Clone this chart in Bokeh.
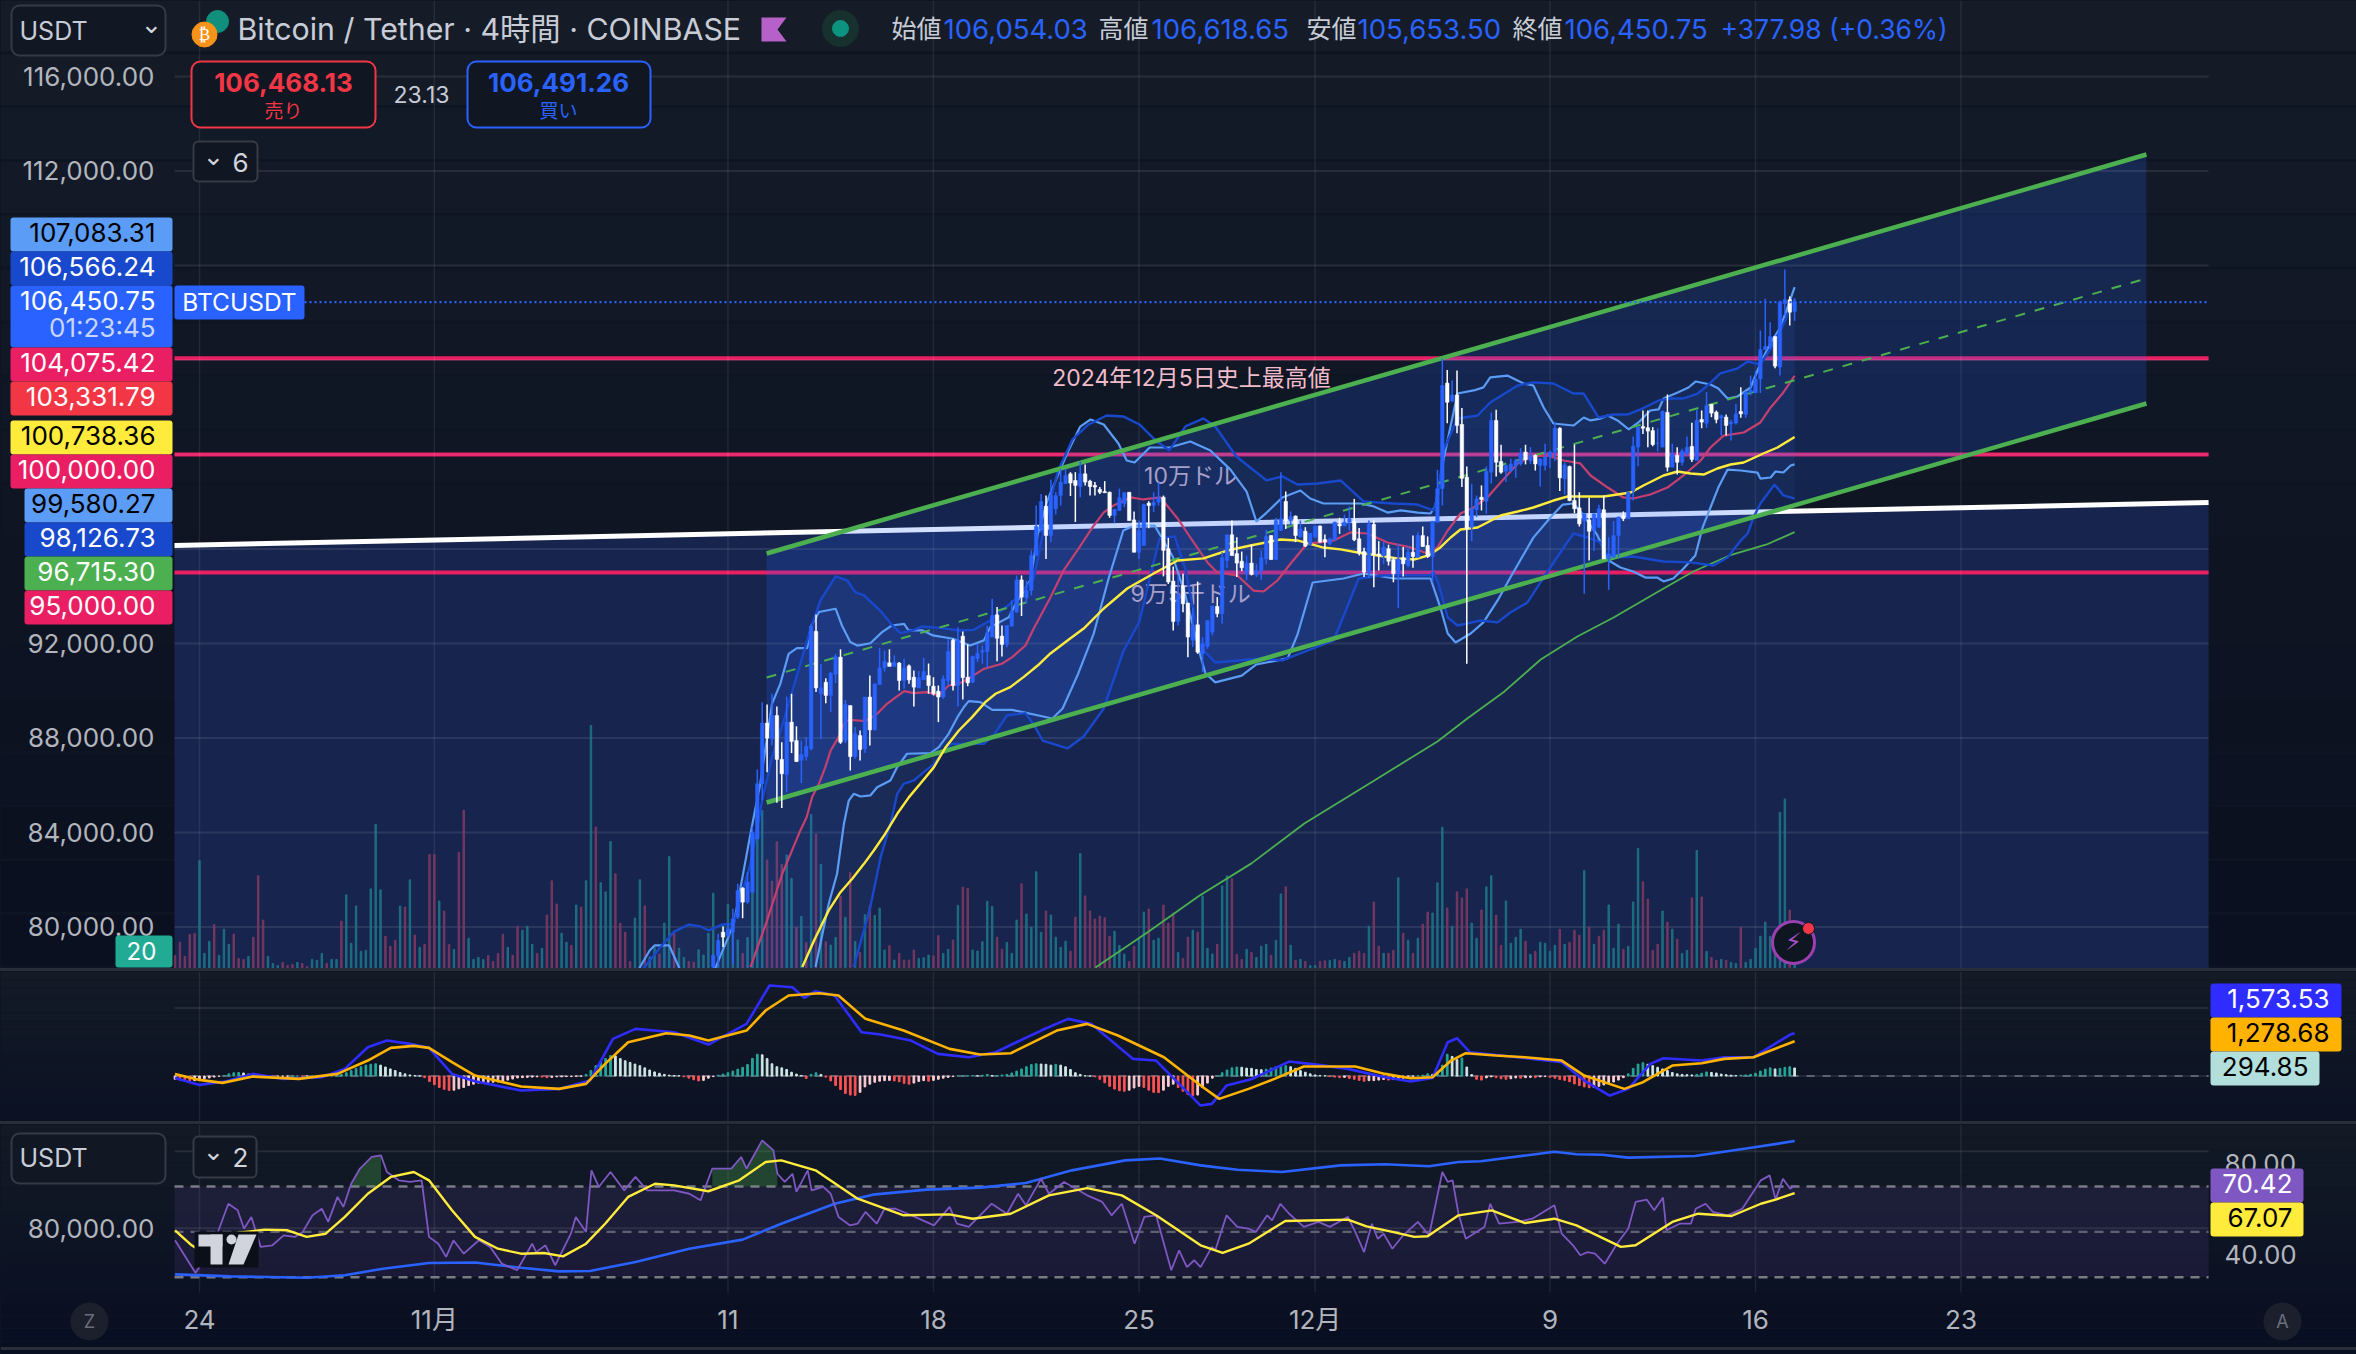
from bokeh.plotting import figure
from bokeh.models import Range1d, LinearAxis, FixedTicker, NumeralTickFormatter, Label, BoxAnnotation, Div, PolyAnnotation
from bokeh.layouts import column
from bokeh.embed import file_html
from bokeh.resources import INLINE
from bokeh.core.properties import value
import numpy as np

# ---------- candle data (4h bars, bar 0 = 24 Oct 00:00) ----------
first_candle = 105
opens = [78300,78790,79780,79640,79780,80420,81640,81050,81470,83730,
 86060,88630,87960,88950,87090,86450,88670,87890,87050,87210,
 87540,92510,89870,90360,89800,90690,91420,87890,89370,87210,
 88100,87540,89730,88340,90260,90970,91180,91030,91170,90430,
 91050,90570,90120,90460,90640,90190,89980,89730,90430,92130,
 90220,92310,90570,90360,91350,91630,91660,92270,93210,92310,
 91960,92730,93330,94690,93930,94240,95720,96850,97810,96570,
 97700,98260,98760,99180,98900,98640,99180,98870,98690,98520,
 98430,98400,97420,97630,97910,98400,97230,95860,96150,97940,
 97840,97980,98190,96010,94640,92930,94450,93710,92130,92790,
 91560,91870,92480,93570,93260,95510,96600,95800,95480,94950,
 95400,94900,95090,95580,96570,95550,96780,98010,97200,97390,
 96500,96750,96190,96500,96970,96400,96220,96390,97060,96970,
 97130,97160,96430,95890,95020,97040,95790,95720,96010,95550,
 94950,95630,95300,95860,95650,96570,96150,95680,97130,98550,
 103020,102260,102520,101270,99040,96920,97660,98190,98020,99250,
 101440,99700,99290,99320,99530,99600,100100,99740,99960,99530,
 99530,99890,100100,101110,98970,99490,98050,97740,97200,
 97230,96780,96920,97660,95580,95650,96570,97390,97280,98470,
 100310,101180,101130,101010,100480,100310,101780,99460,99960,99670,
 100030,100340,99750,101480,101320,102120,101790,101550,101580,101300,
 101330,101820,101690,102640,102610,103200,104430,104570,104990,103700,
 106380,106550,106054.03]
highs = [78860,79710,80020,80130,80770,81830,81680,82320,84250,86670,
 89510,89420,89870,89330,87820,89750,89870,88490,87890,88030,
 92800,93230,91140,90530,90790,91560,91750,89610,89370,88460,
 88320,89730,90640,90290,91800,91700,91750,91490,91210,91350,
 91110,90860,90830,91390,91150,90570,90220,90640,92200,92200,
 92690,92510,91960,91490,91980,91910,92760,93890,93540,92760,
 92760,93820,94880,94880,94670,95940,97840,98330,98260,98930,
 98400,99390,99390,99250,99250,99700,99580,98930,98830,98620,
 98870,98430,97700,98550,98400,98400,97590,97200,97910,98020,
 98400,98830,98260,96470,95260,94880,94950,93710,93510,94620,
 92270,92970,93610,93960,95860,96600,97200,96500,95890,95720,
 96190,95370,95940,96810,96570,97320,99250,98430,97590,97420,
 97200,96920,96670,96990,96990,96610,96470,97160,97320,97460,
 97800,98120,96890,96050,97200,97200,96330,96290,96180,95650,
 96220,96080,96100,96570,96710,96950,96530,97170,99350,104050,
 103580,103130,103550,101970,99490,98760,98260,98690,99490,101780,
 101890,100410,99580,99820,99820,100270,100410,100310,100000,99820,
 100450,100170,101370,101150,99670,99530,100420,98400,97490,98170,
 97490,97870,98260,96500,97180,97370,97590,98430,100760,101160,
 101860,101860,101160,101110,101860,102540,100450,100310,100240,100760,
 101340,101890,101860,102640,102140,101860,101680,101690,101470,102140,
 102850,102670,103340,103530,105250,106590,105600,104990,106520,107830,
 106690,106618.65]
lows = [78230,78300,79150,79570,78440,80340,80370,80980,81430,83730,
 85350,86550,87680,85260,85030,85700,87360,86980,86090,87050,
 87470,89940,87960,89470,89090,90320,87750,87780,86620,87120,
 87050,87360,87680,88320,90260,90810,91030,91030,90010,90080,
 90290,89330,90120,90460,89870,89800,88670,89660,90220,90010,
 89330,89630,90190,90320,91210,91140,90970,92270,91250,91450,
 91840,92730,93300,93160,93700,94030,95720,96710,95580,96290,
 97460,97840,98760,98240,97140,98190,98690,98260,98260,98330,
 98380,97320,97090,97600,97770,97200,95860,95580,96150,96880,
 97560,97840,94840,94520,92550,92760,93320,91420,91850,91560,
 90780,91770,92340,93110,92830,95190,95720,94810,95060,94670,
 94880,94810,94690,95340,95550,95550,96780,96850,96990,96290,
 96500,96080,96150,96470,96260,95650,96150,96360,96640,96970,
 96780,96330,95720,94810,94770,94380,95090,95370,95300,94590,
 93510,94830,95230,95200,95620,96080,95620,94590,97130,97840,
 101325,102210,100900,98620,91140,96330,97350,97630,97490,98760,
 99070,99180,98830,99250,99010,99530,99580,99600,99320,98640,
 99320,99430,99720,98450,98300,98020,97520,96950,94100,95510,
 95910,96890,95580,94270,95620,95650,97180,97280,98050,99500,
 100870,100310,100350,100130,100310,99280,99460,99150,99530,99960,
 99680,99750,101110,101130,101580,101320,100800,100800,100590,101270,
 101550,101550,102500,102610,102600,104430,104470,103650,103340,105880,
 105460,105653.50]
closes = [78790,79430,79570,79920,80340,81540,81050,81900,84010,86060,
 88630,87990,88950,87090,86480,88670,87850,87000,87300,87640,
 92730,90120,90120,89800,90740,91450,87820,89420,87210,88180,
 87510,89730,88340,90290,90970,91250,91030,91200,90430,90970,
 90460,90150,90550,90810,90220,89870,89730,90500,91660,90220,
 92150,90550,90330,91450,91590,91700,92450,93180,92220,91960,
 92760,93370,94690,93960,94240,95720,96950,98010,96570,98260,
 98260,98830,99110,98790,98690,99180,98830,98640,98620,98400,
 98380,97420,97670,98170,98380,97200,95860,96780,97880,97840,
 97980,98190,95940,94600,92930,94070,93680,92270,92760,91630,
 91980,92970,93580,93260,95630,96600,95720,95400,95200,95400,
 94920,95090,95630,96530,95550,97200,97280,97200,97370,96570,
 96850,96120,96670,96970,96290,96290,96430,97130,96970,97130,
 97280,96390,95840,95020,97060,95770,95720,96080,95480,94950,
 95580,95370,95860,95680,96570,96100,95680,97170,98550,102920,
 102210,102520,101230,98990,96850,97700,98120,98090,99290,101440,
 99670,99250,99530,99600,99740,100050,99770,99960,99600,99820,
 99890,100100,101110,99010,99560,98050,97700,97060,97490,96750,
 97490,97700,95580,95790,96570,97350,97280,98400,100350,101160,
 101110,100990,100420,100480,101830,99460,100030,99670,100140,100310,
 99790,101440,101370,102070,101750,101480,101640,101230,101370,101720,
 101720,102640,102710,103200,104440,104570,104990,103740,106450,106550,
 106020,106450.75]

# ---------- volume: positive = up bar, negative = down bar; first value is bar -5 ----------
first_bar = -5
volumes = [-39,-78,-36,-101,-104,321,45,81,-131,39,117,72,-102,-30,-27,36,-93,-276,-144,36,
 15,9,-18,-9,-12,18,-15,-6,27,24,45,-15,27,27,-141,219,75,186,51,54,
 237,429,234,-96,-66,-84,186,-183,264,-99,63,-72,-339,-339,201,-171,-72,57,-345,-471,
 90,27,33,27,-39,-21,-45,-102,63,-39,-126,114,126,72,-45,60,-159,-261,-192,105,
 78,-69,189,-183,261,723,-421,255,228,378,-282,-135,-108,-21,150,264,-186,35,63,-43,
 135,333,-105,61,33,-21,-18,56,
 40,105,224,40,131,191,141,85,-45,92,400,390,470,-323,-260,-377,-310,338,268,-122,
 155,-77,458,-400,310,-80,70,92,-215,152,-285,80,-48,160,-188,158,180,55,-68,25,
 -45,-25,-25,-55,30,32,40,-38,-98,45,57,-85,188,-242,-238,55,52,80,200,185,
 -93,-57,78,45,144,-252,162,123,288,108,-171,159,93,63,81,-51,-153,342,-216,-171,
 -147,-156,-151,-96,111,69,43,-21,-66,91,168,-177,84,90,-189,-135,-165,48,-30,-93,
 114,-108,216,60,43,-72,246,276,-267,-42,-27,57,-48,33,66,72,-39,84,222,-243,
 69,-24,27,-21,9,9,-21,-23,24,27,-24,21,33,-45,-51,-45,126,-198,-66,45,
 -45,-54,270,-105,84,-45,90,-132,-168,165,255,420,-180,126,-228,-210,-237,135,90,-174,
 243,276,-159,-69,201,75,93,117,-81,42,-51,78,75,51,69,-117,72,-78,-114,-99,
 291,-123,72,-96,-114,189,60,132,-57,66,198,357,-258,-207,-54,-72,171,-138,117,-87,
 45,54,-210,351,-213,51,-33,-24,27,-24,18,15,-123,18,27,60,96,138,96,61,
 465,504,-174,50]

# ---------- overlay lines (bar index, price) ----------
bb_light_up_x = [89,90,92,93,96,98,99,103,105.5,109.2,112.6,114.6,117,118.7,120.4,122.1,124.2,124.9,126.6,130,131.3,133,134.4,137.1,139.5,141.5,144,144.9,147.8,149.9,154,157.5,160.3,161.6,165.4,167,169.8,171.3,173.3,175.4,177.4,180,182.1,184.8,187.8,189.5,191.1,194.2,198.2,202.5,206.6,210.7,214,216,218.1,221.3,225,227,229.7,233.2,237.3,240,242.8,245.5,249,251.6,252.6,254.2,257.1,260.4,262.4,263.8,267.3,270.6,272.6,274.7,276.7,280.8,282.9,284.3,286.3,287.8,289.8,292.1,294.1,296.5,298.2,299.2,302.1,304.3,305.8,308.8,310.4,312.3,314.3,317,319,321.1,323.1,326]
bb_light_up_y = [77900,78290,79000,79215,79215,78290,77800,77500,78300,80130,83940,86060,89440,90290,91560,91800,91800,92690,93330,93470,92760,92060,91910,92010,92480,92760,92830,92550,92550,92340,92200,91910,92130,92690,93110,93750,94670,96613,98052,99110,100080,101180,101480,101270,100465,99745,99660,100295,100295,100550,100170,99360,98430,97160,97540,98180,98475,98135,97925,97925,97925,97800,97540,97630,97540,97500,97840,99745,102580,102710,102840,103260,103340,103005,102920,101990,101310,101225,101565,101440,101520,101650,101440,101060,101355,101860,101905,102370,102625,102835,103090,102960,102790,102370,102455,102835,103850,104740,105375,107083.31]
bb_dark_up_x = [88,91,94,97,100,102.4,104.1,106.8,109.2,111.2,112.6,115,117,119.4,122.8,124.9,126.9,130,132.4,134,135.8,139.2,141.6,143.3,146,147.7,151.4,155.2,158.2,161.6,163,165.7,167.8,170.5,172.9,175.4,178.4,181.7,185.4,188.8,192.1,195.2,198.2,201.5,205.2,207.6,211.9,218.1,221.3,224.4,228.5,233.2,237.9,244,248.9,252.2,253.2,254.2,257.1,261.2,263.8,269.4,272.6,276.7,280.8,282.9,285.9,289,291.8,294.9,298.2,300.6,303.3,306.2,308.2,310.8,314.3,316.4,319,321.1,323.1,326]
bb_dark_up_y = [77800,78300,79100,79800,80100,80020,79850,80100,80130,81685,82670,85350,87190,88740,91140,92620,93820,94835,94665,94170,94030,93370,92760,92435,92575,92720,92660,92550,92575,92970,93255,93680,94100,94735,97200,99280,100635,101270,101650,101610,101270,100635,100170,101185,101525,101185,99915,98900,99070,98730,98770,98900,98010,97925,97880,97630,98350,100170,101525,101650,102200,102920,103050,103005,102580,102580,101565,101690,101690,101945,102285,102370,102370,102580,102920,103430,103640,103935,103810,104485,105250,106566.24]
bb_light_low_x = [125.9,128.6,130.3,131.7,132.7,133.7,135.1,137.1,138.5,141.2,142.6,144.6,149.4,151.1,153.1,154.9,156.2,157.2,159.6,162,166.1,174.3,176.4,179.6,182.7,185.8,188.8,191.1,195.2,198.9,201.5,204.6,205.6,207.6,213,216,222.4,224.4,227.5,233.8,237.9,244.2,251.6,253.6,255.1,256.7,259.8,262.4,265.3,267.9,272.6,276.1,278.6,280.8,282.9,285.7,288,290.4,293,295.5,297.9,299.2,301.2,303.3,305.7,307.2,308.8,310.4,312.3,315,318.4,319,321.1,322.1,323.7,325.2,326]
bb_light_low_y = [78300,80980,82250,84365,85350,85635,85520,85565,85915,86200,86765,87330,87360,87610,88175,88880,89300,89560,89515,89190,89190,88825,89247,90730,92380,94750,96780,96990,96990,95680,94030,91450,90730,90350,90640,91110,91365,92380,94580,94750,94960,94750,94750,93520,92420,92040,92420,92890,93820,94790,96480,97330,97880,97925,97415,96570,95510,95215,95045,94790,94790,94625,94750,95175,95725,96910,97755,98600,99360,99320,99235,98980,99025,99280,99235,99530,99580.27]
bb_dark_low_x = [133.7,137.1,139.2,141.2,142.6,143.9,146,148,150.1,152.1,153.5,156.2,160.3,162.3,165,168.8,170.8,172.3,177.4,180.7,184.8,188.8,192.1,194.2,196.2,199.3,201.5,204.6,207.6,217,221.3,231.8,236.9,242.2,251.6,252.2,253.2,255.1,257.1,259.1,261.8,265.3,267.9,271.4,274.7,278.8,280.8,283.7,286.3,288,293,299.2,304.7,309.4,312.3,315,316.4,317.6,319,321.9,323.7,326]
bb_dark_low_y = [78300,80840,82955,84365,85635,86060,86200,86550,86905,87470,87750,87750,87750,88105,88950,89050,88460,87890,87555,88060,89247,91660,92930,94750,96445,96530,95130,91830,91195,91365,91280,92125,94750,94880,94880,95000,94540,93100,92760,92845,92970,92890,93310,93735,94790,96060,96655,96485,96275,95640,95680,95470,95430,95300,95640,96360,96655,97330,97925,98730,98265,98126.73]
ma_red_x = [112.6,116,119.1,120.8,122.8,124.1,125.2,126.6,127.9,129,130.6,131.7,132.7,136.1,138.5,140.5,144,146,148.7,151.1,153.1,155.2,157.6,160.3,164,166.1,168.8,170.5,173.9,176.6,179.4,182.5,184.8,186.8,190.3,192.9,196.4,199.9,202.5,206,208,212.1,215.4,217.5,220.3,223,226.4,229.1,231.8,235.2,238.7,242.8,247.5,251,253,255.1,257.7,260.4,263.2,265.9,269.4,272,275.5,278.8,282.2,284.3,287.8,291,293,296.5,300,303.3,306.8,308.8,311.5,315.6,319,321.1,323.7,326]
ma_red_y = [78300,80275,82250,83095,84085,84650,85495,86060,86765,87470,88035,88600,88770,88710,89020,89445,89980,89895,89940,89800,90220,90290,90570,90925,91140,91420,91915,92630,93945,95090,95935,96910,97545,97840,98180,98095,98180,97290,96485,95430,95005,94880,94240,94200,94665,95385,96230,96275,96360,96700,96655,96275,96065,95810,96065,96780,97500,97755,98180,98815,99620,99915,99960,99745,99620,99110,98600,98180,98135,98305,98600,99110,99745,100295,100800,100930,101355,101990,102625,103331.79]
ma_yellow_x = [123.2,125.6,128.6,131,133.4,135.8,137.8,139.9,142.6,145,147.3,150.1,152.5,155.2,157.9,160.6,162.7,165.7,168.4,171.3,173.9,177.4,180.7,184.8,189.6,195,199.9,205.2,210.1,214.8,220.9,224.4,229.7,233.2,236.7,240.8,244.8,248.2,251.2,253.6,255.7,257.7,261.2,263.2,265.9,269.4,272.6,276.7,279.6,283.7,287,292.5,295.1,299.2,302.1,304.7,307.4,310.2,312.9,315.6,319.6,322.5,326]
ma_yellow_y = [78300,79425,80700,81470,82040,82670,83235,83870,84790,85495,86060,86765,87610,88315,88880,89515,89870,90150,90575,91066,91575,92125,92630,93480,94325,94960,95510,95600,95935,96145,96400,96360,96060,95980,95850,95725,95600,95555,95725,96065,96485,96825,96910,97120,97415,97585,97755,98050,98220,98220,98220,98390,98685,99110,99280,99195,99150,99405,99575,99660,100040,100295,100738.36]
ma_green_x = [183.1,193.7,204.4,215,225.8,240.1,253,259.1,266.7,274.1,281.6,289,297.8,305.3,312.7,320.3,326]
ma_green_y = [78280,79765,81330,82690,84380,86200,87850,88825,89970,91320,92295,93100,94155,95045,95725,96190,96715.30]

# drawings
level_prices = [104075.42, 100000.00, 95000.00]
last_price = 106450.75
white_x = [-5.11, 410.6]
white_y = [96147, 97967]
channel_x = [115.9, 397.9]
channel_upper = [95808, 112698]
channel_mid = [90560, 107450]
channel_lower = [85268, 102158]

# ---------- MACD ----------
macd_x = [-5,0,5.5,10.9,17.2,25,29.7,34.4,38.3,43,46.9,51.6,56.3,65.7,73.5,79.8,84.5,89.1,97,104,111.8,116.5,121.2,123.6,125.9,129.8,135.3,139.2,145.4,150.9,157.2,162.7,172,177.5,182.2,190.8,195.5,204.6,206.9,209.9,215.1,222.7,228.7,234.7,242.3,247.5,252,255.1,257,259.6,264.1,272.4,278.4,283,288.2,292,296.5,299.2,307,311.6,317.6,321.4,325.1,326]
macd_y = [-69,-327,-192,78,-106,-45,262,1060,1305,1182,1035,78,-192,-535,-474,-167,1367,1735,1612,1158,1919,3330,3268,2876,3121,2962,1612,1526,1305,814,692,876,1673,2103,1919,630,569,-1087,-1026,-351,-106,532,410,262,-45,-204,-69,1244,1391,876,790,630,508,-167,-719,-474,446,655,569,692,692,1121,1526,1573.53]
signal_x = [-5,0,4.7,10.9,20.3,28.2,34.4,39.1,43.8,46.9,51.6,56.3,65.7,73.5,79,82.9,87.6,95.4,100.1,104,111.8,115.7,120.4,126.7,130.6,136.1,143.9,153.3,159.5,165.8,175.2,181.4,187.7,197.1,204.6,208.4,214.4,219.7,225.7,236.2,242.3,247.5,252,255.8,258.8,264.9,270.9,278.4,283,291.2,295,301,307,311.6,317.6,326]
signal_y = [78,-143,-253,-20,-106,78,569,1035,1109,1035,508,17,-388,-474,-290,446,1244,1575,1489,1305,1673,2410,2962,3048,2962,2103,1673,998,790,839,1673,1919,1489,692,-351,-842,-474,-106,348,348,78,-81,-45,569,839,753,692,569,17,-474,-229,385,471,630,692,1278.68]
hist = [-120,-150,-170,-180,-170,-140,-100,-70,-40,-10,20,80,120,130,110,70,30,10,5,-5,-10,-10,-5,-5,0,0,
 -5,-5,0,5,5,0,5,20,60,120,200,280,340,400,430,450,400,330,260,200,130,80,40,15,5,
 -60,-200,-320,-420,-490,-530,-520,-470,-420,-350,-300,-260,-250,-230,-230,-220,-200,-150,-110,-70,-60,-50,-40,-30,
 -40,-60,-50,-30,-30,-20,-20,-10,-5,60,200,380,500,640,750,740,640,560,500,440,380,300,220,150,100,60,30,20,10,
 -30,-80,-140,-180,-160,-80,-20,30,70,120,180,250,320,420,650,800,780,640,450,340,300,240,140,70,20,
 -90,60,120,60,-40,-180,-350,-500,-640,-700,-710,-600,-400,-300,-230,-190,-170,-160,-180,-210,-270,-300,
 -260,-200,-170,-190,-160,-120,-80,-50,-20,0,5,10,20,10,30,60,20,20,40,60,
 110,180,260,340,420,450,440,430,400,430,400,340,240,120,60,10,0,-30,
 -120,-250,-380,-480,-540,-560,-520,-440,-380,-420,-520,-600,-610,-520,-380,-300,-420,-560,-680,-730,-700,
 -430,-260,-80,0,120,220,300,330,320,290,280,240,230,250,290,340,350,380,340,280,200,140,80,40,20,10,
 -20,-40,-60,-50,-90,-120,-160,-190,-170,-170,-150,-130,-150,-130,-100,-80,-40,-10,10,30,80,60,150,400,
 800,720,600,660,330,50,-120,-150,-70,-30,-60,-100,-120,-100,-70,-80,-60,-50,-60,-30,-20,-50,-80,-130,-160,-210,
 -290,-350,-400,-430,-420,-380,-330,-280,-220,-150,-60,80,280,440,490,430,380,320,260,200,130,80,60,50,40,60,
 100,150,130,110,70,50,30,20,30,40,60,100,180,250,300,260,280,320,340,294.85]

# ---------- RSI ----------
rsi_x = [-5,-0.8,1.6,3.9,5.9,7.8,9.1,10.6,12.5,14.9,17.2,19.5,21.1,23.1,25,26.3,28.2,29.4,31,32.8,35.2,37.1,38.3,40.7,43,45.4,46.9,48.8,50.4,51.9,54,57.1,59.4,61.8,64.9,68,68.8,70.7,72.7,75.9,76.9,79,80.1,81.6,84,86.8,89.1,91.5,97,100.1,102.4,104.8,108.7,110.7,111.8,115,117.3,118.1,119.6,121.2,122,124.3,125.1,127.5,129,130.6,132.9,134.5,136.1,138.4,140,142.3,146.2,150.1,153.3,154.8,157.2,161.9,165,167.3,168.9,172,173.6,176.7,181.4,184.5,186.4,188.5,191.1,193.1,195.5,198.6,200.2,201.8,203.3,204.6,206.9,207.6,209.9,212.1,214.4,215.9,218.2,219.2,220.9,222.7,225.7,228.7,231,234.7,236.2,238,239.6,240.8,242,243.8,246,249,251.3,254,255.1,256.1,257.3,258.8,262.6,263.8,265.6,269.4,272.4,276.9,278.4,280.7,282.2,283.7,285.2,287.2,289.7,292,293.5,295.8,297.3,299.1,299.8,302.5,304.8,305.8,307.8,309.3,312.3,315.3,319.1,320.9,322.1,323.6,325.1,326]
rsi_y = [46.3,31.9,40.4,50.7,62.4,59.5,51.4,56.6,43.4,44.1,48.5,47.8,50,57.3,60.2,54.4,65.4,61,71.2,77.9,83,83.7,76.4,72.7,72,72.7,47.8,44.8,39,46.3,40.4,46.3,43.4,36,33.1,44.8,41.1,44.1,35.3,49.2,56.6,50,77.1,69.8,76.4,68.3,74.2,68.3,68.3,66.8,63.9,77.9,77.9,83,77.9,90.3,85.9,75.6,72,75.6,67.6,77.1,68.3,69.8,66.8,56.6,52.9,53.6,58.8,53.6,60.2,60.2,56.6,52.9,61,53.6,52.2,62.4,58,66.8,61.7,73.4,66.8,72,66.1,63.2,57.3,62.4,44.8,56.6,57.3,33.1,41.9,34.5,37.5,34.5,43.4,41.9,57.3,52.2,51.4,50,57.3,55.1,62.4,58,52.2,54.4,52.2,56.6,50,41.1,53.6,47,49.2,42.6,48.5,54.4,48.5,76.4,72,72.7,58,47,52.2,62.4,53.6,54.4,55.8,61.7,49.2,44.1,39.7,41.1,40.4,36,44.8,51.4,63.2,64.2,59.5,65.1,50.7,53.6,53.6,60.2,62.4,58.8,57.3,60.2,72.7,74.9,64.2,73.4,69,70.42]
rsi_ma_x = [-5,-1.6,0,6.3,13.3,18,21.9,25.8,29.7,34.4,39.1,43.8,46.9,51.6,56.3,61,65.7,70.4,74.3,79,82.9,87.6,93.1,97,104,110.3,115.7,118.9,125.9,134.5,143.9,153.3,158,165.8,173.6,181.4,188.5,195.5,204.6,209.1,214.4,221.9,234.7,238.5,243.8,248.3,251,257.3,264.1,270.9,276.9,281.4,290.5,293.5,301,306.3,313.1,319.1,322.1,326]
rsi_ma_y = [50.7,44.1,41.9,49.2,51,50.7,47.8,49.2,56.6,66.8,74.2,76.4,72.7,59.5,47.8,42.6,40.4,40.7,39.2,44.8,53.6,65.4,71.2,70.5,67.9,72.7,80.8,81.5,77.1,64.6,57.3,57.7,55.8,58,66.1,69.3,66.1,57.3,44.1,40.8,44.8,54.8,55.4,52.4,50,47.8,48.1,57.3,59.5,53.9,55.8,52.9,43.4,44.1,54.4,58,57,62.4,64.2,67.07]
rsi_blue_x = [-5,6.3,21.9,29.7,37.5,46.9,56.3,65.7,73.5,79.8,89.1,100.1,111,118.9,129.8,137.6,148.6,159.5,168.9,178.3,189.2,196.3,204.6,212.1,221.2,233.2,242.3,251.3,257.3,261.9,276.9,281.4,286.7,292,305.6,316.1,326]
rsi_blue_y = [31.3,30.4,29.8,30.9,33.8,36.3,36.5,34.2,32.6,32.8,36.7,42.6,46.6,53.6,62.4,66.4,68.6,69.5,71.5,77.1,81.5,82.3,79.3,77.4,76.4,79.3,79.8,78.9,80.8,81.1,85.3,84.2,84,82.7,83.4,86.7,90]
rsi_bands = [70, 50, 30]

# ---------- axes ----------
date_ticks = [0, 48, 108, 150, 192, 228, 276, 318, 360]
date_labels = ["24", "11月", "11", "18", "25", "12月", "9", "16", "23"]
price_grid = [80000,84000,88000,92000,96000,100000,104000,108000,112000,116000]
price_labels = [80000,84000,88000,92000,112000,116000]

# ---------- style ----------
FONT = 'Inter, "Noto Sans CJK JP"'
BLUE = "#2962ff"; LBLUE = "#5b9cf6"; DBLUE = "#1848cc"; PINK = "#e91e63"; GREEN = "#4caf50"
TXT = "#b2b5be"
CANVAS_L = -40.67; CANVAS_R = 440.83   # x range of the whole canvas width
X0 = -5.11; X1 = 410.6                 # x range of the chart panes

def gradient(f, y0, y1, c0, c1, n=18):
    a = np.array([int(c0[i:i+2], 16) for i in (1, 3, 5)], dtype=float)
    b = np.array([int(c1[i:i+2], 16) for i in (1, 3, 5)], dtype=float)
    ys = np.linspace(y0, y1, n + 1)
    cs = []
    for k in range(n):
        t = k / (n - 1)
        r, g, bb = (a + (b - a) * t).astype(int)
        cs.append(f"#{r:02x}{g:02x}{bb:02x}")
    f.quad(left=CANVAS_L, right=CANVAS_R, top=ys[:-1], bottom=ys[1:] - (ys[1] - ys[0]) * 0.05, fill_color=cs, line_color=None)

def draw_grid(f, hticks, y_lo, y_hi):
    # horizontal lines stop at the pane edges, vertical ones at the pane bottom
    f.segment(x0=[X0] * len(hticks), y0=hticks, x1=[X1] * len(hticks), y1=hticks,
              line_color="#ffffff", line_alpha=0.085, line_width=2)
    f.segment(x0=date_ticks, y0=[y_lo] * len(date_ticks), x1=date_ticks, y1=[y_hi] * len(date_ticks),
              line_color="#ffffff", line_alpha=0.075, line_width=1.5)

def make_fig(h, yr):
    f = figure(width=2356, height=h, x_range=Range1d(CANVAS_L, CANVAS_R), y_range=Range1d(*yr),
               output_backend="svg", toolbar_location=None, min_border=0,
               background_fill_color="#0e1522", border_fill_color="#0e1522", outline_line_color=None)
    f.xaxis.fixed_location = yr[0]
    f.yaxis.fixed_location = X0
    f.grid.visible = False
    for a in f.xaxis + f.yaxis:
        a.major_tick_line_color = None; a.minor_tick_line_color = None; a.axis_line_color = None
        a.major_label_text_color = TXT; a.major_label_text_font = FONT; a.major_label_text_font_size = "26px"
    return f

def box(f, top, l, r, t, b, fill=None, line=None, radius=0, lw=2):
    f.add_layout(BoxAnnotation(left=l, right=r, top=t-top, bottom=b-top,
                               left_units="canvas", right_units="canvas", top_units="canvas", bottom_units="canvas",
                               fill_color=fill, fill_alpha=1 if fill else 0, line_color=line, line_alpha=1 if line else 0,
                               line_width=lw, border_radius=radius, level="overlay"))

def lab(f, top, txt, x, y, size=22, color=TXT, align="left", bold=False, font=FONT):
    f.add_layout(Label(x=x, y=y-top, x_units="canvas", y_units="canvas", text=txt, text_font=font,
                       text_font_size=f"{size}px", text_color=color, text_align=align, text_baseline="middle",
                       text_font_style="bold" if bold else "normal", level="overlay"))

# ================= main pane =================
TOP_M = 0
p = make_fig(968, (78240, 119217))
gradient(p, 119217, 78240, "#151c28", "#0b1020")
p.xaxis.visible = False
p.yaxis.ticker = FixedTicker(ticks=price_labels)
p.yaxis.formatter = NumeralTickFormatter(format="0,0.00")
p.yaxis.major_label_standoff = 14
p.extra_y_ranges = {"vol": Range1d(0, 2880)}

dx = lambda px: (px - 199) / 4.893
dy = lambda py: 119217 - 42.33 * py

p.varea(x=white_x, y1=white_y, y2=[60000, 60000], fill_color="#182650", fill_alpha=0.96)
p.line(white_x, white_y, line_color="white", line_width=5)
for lv in level_prices:
    p.line([X0, X1], [lv, lv], line_color=PINK, line_width=4)
p.varea(x=channel_x, y1=channel_upper, y2=channel_lower, fill_color=BLUE, fill_alpha=0.2)
draw_grid(p, price_grid, 78240, 119217)

bar_x = np.arange(len(volumes)) + first_bar
vol = np.array(volumes, dtype=float)
p.vbar(x=bar_x, top=np.abs(vol), bottom=0, width=0.3, y_range_name="vol",
       color=["#1f7485" if v > 0 else "#7d3a60" for v in vol], alpha=0.85)

p.patch(bb_light_up_x + bb_light_low_x[::-1], bb_light_up_y + bb_light_low_y[::-1], fill_color=BLUE, fill_alpha=0.07, line_color=None)
p.patch(bb_dark_up_x + bb_dark_low_x[::-1], bb_dark_up_y + bb_dark_low_y[::-1], fill_color=LBLUE, fill_alpha=0.05, line_color=None)

p.text(x=[dx(1191)], y=[dy(378)], text=["2024年12月5日史上最高値"], text_font=value(FONT), text_font_size="23px",
       text_color="#f0bccb", text_align="center", text_baseline="middle")
p.text(x=[dx(1190)], y=[dy(476)], text=["10万ドル"], text_font=value(FONT), text_font_size="23px",
       text_color="#a79fcb", text_align="center", text_baseline="middle")
p.text(x=[dx(1190)], y=[dy(594)], text=["9万5千ドル"], text_font=value(FONT), text_font_size="23px",
       text_color="#a79fcb", text_align="center", text_baseline="middle")

p.line(ma_green_x, ma_green_y, line_color=GREEN, line_width=1.8)
p.line(bb_light_up_x, bb_light_up_y, line_color=LBLUE, line_width=2.2)
p.line(bb_light_low_x, bb_light_low_y, line_color=LBLUE, line_width=2.2)
p.line(bb_dark_up_x, bb_dark_up_y, line_color=DBLUE, line_width=2.4)
p.line(bb_dark_low_x, bb_dark_low_y, line_color=DBLUE, line_width=2.4)
p.line(ma_red_x, ma_red_y, line_color="#c5406f", line_width=2.2)

p.line(channel_x, channel_upper, line_color=GREEN, line_width=4.5)
p.line(channel_x, channel_lower, line_color=GREEN, line_width=4.5)
p.line(channel_x, channel_mid, line_color=GREEN, line_width=2, line_dash="10 10")
p.line(ma_yellow_x, ma_yellow_y, line_color="#ffeb3b", line_width=2.4)

cx = np.arange(len(opens)) + first_candle
o = np.array(opens); c = np.array(closes)
cols = [BLUE if b >= a else "#ffffff" for a, b in zip(opens, closes)]
p.segment(cx, highs, cx, lows, line_color=cols, line_width=1.5)
p.vbar(cx, width=0.72, top=np.maximum(o, c), bottom=np.minimum(o, c), fill_color=cols, line_color=cols, line_width=0.5)

p.line([dx(304), X1], [last_price, last_price], line_color=BLUE, line_width=2.4, line_dash="2 3")

# icons inside the pane
p.scatter([dx(217)], [dy(21)], size=22, color="#0f8f7c")
p.scatter([dx(204)], [dy(34)], size=25, color="#f7931a")
p.text([dx(204)], [dy(34)], text=["₿"], text_color="white", text_font=value("DejaVu Sans"), text_font_size="17px", text_align="center", text_baseline="middle")
p.patch([dx(x) for x in (761, 786, 777, 786, 761)], [dy(y) for y in (17, 17, 29, 41, 41)], color="#b561c9", line_color=None)
p.scatter([dx(840)], [dy(28)], size=36, color="#17312f")
p.scatter([dx(840)], [dy(28)], size=16, color="#0d9480")
p.scatter([dx(1793)], [dy(942)], size=42, fill_color="#0e1621", line_color="#9c3fb0", line_width=3)
p.text([dx(1793)], [dy(942)], text=["⚡"], text_color="#a850c8", text_font=value("DejaVu Sans"), text_font_size="24px", text_align="center", text_baseline="middle")
p.scatter([dx(1808)], [dy(928)], size=12, color="#f23645", line_color="#0e1621")

# header
box(p, TOP_M, 11, 165, 5, 55, fill="#111824", line="#363a45", radius=8)
lab(p, TOP_M, "USDT", 19, 30, 25, "#c8ccd6")
lab(p, TOP_M, "⌄", 151, 23, 26, "#d1d4dc", align="center", font="DejaVu Sans")
lab(p, TOP_M, "Bitcoin / Tether · 4時間 · COINBASE", 237, 28, 30.3, "#c8ccd6")
lab(p, TOP_M, "始値", 891, 28, 25, "#c8ccd6"); lab(p, TOP_M, "106,054.03", 943, 28, 27.5, BLUE)
lab(p, TOP_M, "高値", 1098, 28, 25, "#c8ccd6"); lab(p, TOP_M, "106,618.65", 1151, 28, 27.5, BLUE)
lab(p, TOP_M, "安値", 1306, 28, 25, "#c8ccd6"); lab(p, TOP_M, "105,653.50", 1357, 28, 27.5, BLUE)
lab(p, TOP_M, "終値", 1512, 28, 25, "#c8ccd6"); lab(p, TOP_M, "106,450.75", 1564, 28, 27.5, BLUE)
lab(p, TOP_M, "+377.98 (+0.36%)", 1720, 28, 26.5, BLUE)

box(p, TOP_M, 191, 375, 61, 127, fill="#101722", line="#f23645", radius=9)
lab(p, TOP_M, "106,468.13", 283, 82, 26, "#f23645", align="center", bold=True)
lab(p, TOP_M, "売り", 283, 111, 19, "#f23645", align="center")
lab(p, TOP_M, "23.13", 421, 94, 23, "#c8ccd6", align="center")
box(p, TOP_M, 467, 650, 61, 127, fill="#101722", line=BLUE, radius=9)
lab(p, TOP_M, "106,491.26", 558, 82, 26, BLUE, align="center", bold=True)
lab(p, TOP_M, "買い", 558, 111, 19, BLUE, align="center")
box(p, TOP_M, 193, 257, 141, 181, fill="#101722", line="#363a45", radius=5)
lab(p, TOP_M, "⌄", 213, 155, 26, "#d1d4dc", align="center", font="DejaVu Sans")
lab(p, TOP_M, "6", 240, 162, 26, "#d1d4dc", align="center")

# price tags
left_tags = [("107,083.31", 217, 251, LBLUE, "#000000", 10), ("106,566.24", 251, 285, DBLUE, "#ffffff", 10),
             ("106,450.75", 285, 347, BLUE, "#ffffff", 10), ("104,075.42", 347, 381, PINK, "#ffffff", 10),
             ("103,331.79", 381, 415, "#f23645", "#ffffff", 10), ("100,738.36", 420, 454, "#ffeb3b", "#000000", 10),
             ("100,000.00", 454, 488, PINK, "#ffffff", 10), ("99,580.27", 488, 522, LBLUE, "#000000", 24),
             ("98,126.73", 522, 556, DBLUE, "#ffffff", 24), ("96,715.30", 556, 590, GREEN, "#ffffff", 24),
             ("95,000.00", 590, 624, PINK, "#ffffff", 24)]
for txt, t, b, bg, fg, l in left_tags:
    box(p, TOP_M, l, 172, t, b, fill=bg, radius=3)
    lab(p, TOP_M, txt, 155, t + 15, 26, fg, align="right")
lab(p, TOP_M, "01:23:45", 155, 327, 26, "#c9d6fb", align="right")
box(p, TOP_M, 174, 304, 285, 319, fill=BLUE, radius=3)
lab(p, TOP_M, "BTCUSDT", 239, 301, 24.5, "#ffffff", align="center")
box(p, TOP_M, 115, 172, 935, 967, fill="#22ab94", radius=3)
lab(p, TOP_M, "20", 141, 950, 24, "#ffffff", align="center")

# ================= MACD pane =================
TOP_D = 971
m = make_fig(150, (-1674, 3846))
gradient(m, 3846, -1674, "#141b27", "#0c1224")
m.xaxis.visible = False; m.yaxis.visible = False
draw_grid(m, [0, 2500], -1674, 3846)
m.line([X0, X1], [0, 0], line_color="#5d6272", line_width=2, line_dash="8 8")
hx = np.arange(len(hist)) + first_bar
hv = np.array(hist, dtype=float)
prev = np.r_[hv[0], hv[:-1]]
hcol = []
for v, w in zip(hv, prev):
    if v >= 0:
        hcol.append("#26a69a" if v >= w else "#cfe8e6")
    else:
        hcol.append("#ffcdd2" if v >= w else "#ff5252")
m.vbar(hx, width=0.35, top=np.maximum(hv, 0), bottom=np.minimum(hv, 0), color=hcol)
m.line(macd_x, macd_y, line_color="#2e2cff", line_width=2.6)
m.line(signal_x, signal_y, line_color="#ffb300", line_width=2.6)
for txt, t, b, r, rt, bg, fg in [("1,573.53", 983, 1017, 2341, 2329, "#2e2cff", "#ffffff"),
                                 ("1,278.68", 1017, 1051, 2341, 2329, "#ffb300", "#000000"),
                                 ("294.85", 1051, 1085, 2319, 2308, "#b2dfdb", "#000000")]:
    box(m, TOP_D, 2210, r, t, b, fill=bg, radius=3)
    lab(m, TOP_D, txt, rt, t + 15, 26, fg, align="right")

# ================= RSI pane =================
TOP_R = 1124
RSI_BOTTOM = 23.3
s = make_fig(230, (-4.0, 97.3))
gradient(s, 97.3, -4.0, "#131a26", "#090f22")
s.xaxis.fixed_location = RSI_BOTTOM
s.xaxis.ticker = FixedTicker(ticks=date_ticks)
s.xaxis.major_label_overrides = dict(zip(date_ticks, date_labels))
s.xaxis.major_label_standoff = 5
s.yaxis.ticker = FixedTicker(ticks=[51.6])
s.yaxis.major_label_overrides = {51.6: "80,000.00"}
s.yaxis.major_label_standoff = 14
ax = LinearAxis(ticker=FixedTicker(ticks=[40, 80]), formatter=NumeralTickFormatter(format="0.00"),
                major_tick_line_color=None, minor_tick_line_color=None, axis_line_color=None,
                major_label_text_color=TXT, major_label_text_font=FONT, major_label_text_font_size="26px",
                major_label_standoff=10, fixed_location=X1)
s.add_layout(ax, "right")
s.varea(x=[X0, X1], y1=[70, 70], y2=[30, 30], fill_color="#7e57c2", fill_alpha=0.13)
draw_grid(s, [85.55, 51.6], RSI_BOTTOM, 97.3)
for b in rsi_bands:
    s.line([X0, X1], [b, b], line_color="#787b86" if b != 50 else "#5d6272", line_width=2.4, line_dash="9 7")
rx = np.array(rsi_x); ry = np.array(rsi_y)
for lo, hi in [(30, 38.2), (104.4, 118.4)]:
    mask = (rx >= lo) & (rx <= hi)
    s.varea(x=rx[mask], y1=np.full(mask.sum(), 70.0), y2=np.maximum(ry[mask], 70.0), fill_color=GREEN, fill_alpha=0.3)
s.line(rsi_blue_x, rsi_blue_y, line_color=BLUE, line_width=2.6)
s.line(rsi_x, rsi_y, line_color="#7e57c2", line_width=1.8)
s.line(rsi_ma_x, rsi_ma_y, line_color="#ffeb3b", line_width=2.4)
s.line([CANVAS_L, CANVAS_R], [-1.4, -1.4], line_color="#2a2e39", line_width=3)

box(s, TOP_R, 11, 165, 1133, 1183, fill="#111824", line="#363a45", radius=8)
lab(s, TOP_R, "USDT", 19, 1157, 25, "#c8ccd6")
box(s, TOP_R, 193, 256, 1136, 1177, fill="#101722", line="#363a45", radius=5)
lab(s, TOP_R, "⌄", 213, 1150, 26, "#d1d4dc", align="center", font="DejaVu Sans")
lab(s, TOP_R, "2", 240, 1157, 26, "#d1d4dc", align="center")
for txt, t, b, r, rt, bg, fg in [("70.42", 1168, 1202, 2303, 2292, "#7e57c2", "#ffffff"),
                                 ("67.07", 1202, 1236, 2303, 2292, "#ffeb3b", "#000000")]:
    box(s, TOP_R, 2210, r, t, b, fill=bg, radius=3)
    lab(s, TOP_R, txt, rt, t + 15, 26, fg, align="right")
# logo
box(s, TOP_R, 194, 258, 1231, 1267, fill="#0b0f17")
box(s, TOP_R, 198, 222, 1234, 1246, fill="#d1d4dc")
box(s, TOP_R, 210, 222, 1234, 1264, fill="#d1d4dc")
box(s, TOP_R, 226, 236, 1234, 1244, fill="#d1d4dc", radius=5)
s.add_layout(PolyAnnotation(xs=[238, 256, 243, 228], ys=[1234-TOP_R, 1234-TOP_R, 1264-TOP_R, 1264-TOP_R],
                            xs_units="canvas", ys_units="canvas", fill_color="#d1d4dc", fill_alpha=1, line_color=None, level="overlay"))
# corner buttons
box(s, TOP_R, 70, 108, 1302, 1340, fill="#1b202c", radius=19)
lab(s, TOP_R, "Z", 89, 1321, 18, "#6a6f7c", align="center")
box(s, TOP_R, 2263, 2301, 1302, 1340, fill="#1b202c", radius=19)
lab(s, TOP_R, "A", 2282, 1321, 18, "#6a6f7c", align="center")

sep = lambda: Div(text="", width=2356, height=3, margin=0, styles={"background-color": "#2a2e39"})
layout = column(p, sep(), m, sep(), s, spacing=0)
html = file_html(layout, INLINE)
html = html.replace("</head>", "<style>html,body{background:#0e1522;margin:0;overflow:hidden}</style></head>", 1)
open("out.html", "w").write(html)
